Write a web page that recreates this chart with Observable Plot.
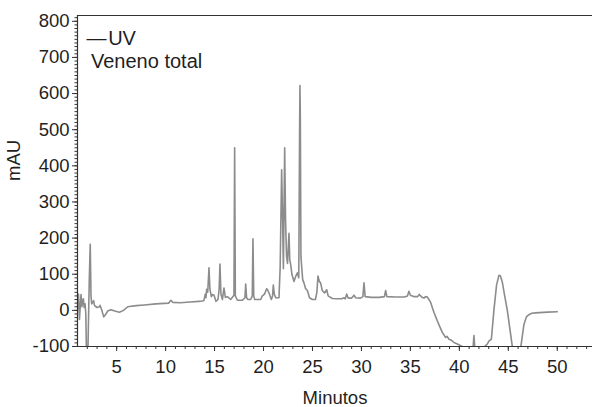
<!DOCTYPE html>
<html>
<head>
<meta charset="utf-8">
<script src="https://cdn.jsdelivr.net/npm/d3@7"></script>
<script src="https://cdn.jsdelivr.net/npm/@observablehq/plot@0.6"></script>
<style>
  html, body { margin: 0; padding: 0; background: #fff; }
  svg { display: block; }
</style>
</head>
<body>
<div id="chart"></div>
<script>
// Retention time (minutes)
const minutos = [
  1.02, 1.1, 1.2, 1.3, 1.36, 1.45, 1.52, 1.6, 1.68, 1.77, 1.85, 1.92, 2.05, 2.2, 2.3, 2.38, 2.45, 2.55, 2.65, 2.72, 2.79,
  3.0, 3.24, 3.3, 3.45, 3.68, 3.9, 4.08, 4.42, 4.8, 5.28, 5.7, 6.13, 7.0, 7.83, 9.0, 10.3, 10.55, 10.75, 11.5, 12.5,
  13.4, 13.79, 13.92, 14.05, 14.12, 14.19, 14.3, 14.43, 14.52, 14.67, 14.8, 14.94, 15.14, 15.35, 15.47, 15.55, 15.65,
  15.8, 15.96, 16.1, 16.31, 16.64, 16.98, 17.05, 17.12, 17.33, 17.84, 18.1, 18.18, 18.27, 18.41, 18.69, 18.85, 18.92,
  19.0, 19.1, 19.71, 19.88, 20.1, 20.32, 20.45, 20.56, 20.8, 20.92, 21.0, 21.1, 21.24, 21.58, 21.7, 21.85, 21.95,
  22.03, 22.1, 22.16, 22.25, 22.35, 22.45, 22.6, 22.68, 22.77, 22.9, 23.11, 23.3, 23.46, 23.6, 23.68, 23.72, 23.76,
  23.82, 23.9, 24.0, 24.13, 24.3, 24.48, 24.7, 24.99, 25.3, 25.45, 25.56, 25.7, 25.83, 26.0, 26.24, 26.45, 26.6,
  27.03, 27.5, 28.0, 28.21, 28.35, 28.49, 28.65, 29.0, 29.24, 29.4, 29.9, 30.15, 30.26, 30.38, 31.0, 31.8, 32.35,
  32.47, 32.6, 33.5, 34.4, 34.7, 34.85, 35.0, 35.4, 35.75, 35.9, 36.05, 36.2, 36.38, 36.55, 36.73, 37.07, 37.4,
  37.75, 38.0, 38.26, 38.6, 38.75, 38.94, 39.2, 39.45, 39.8, 40.13, 40.5, 41.0, 41.4, 41.49, 41.58, 42.0, 42.5,
  42.86, 43.02, 43.15, 43.27, 43.53, 43.8, 44.04, 44.2, 44.39, 44.6, 44.9, 45.41, 45.7, 46.1, 46.26, 46.59, 46.85,
  47.1, 47.4, 47.79, 49.0, 50.0
];
// Absorbance (mAU)
const mAU = [
  5, 45, -25, 20, 44, 10, 25, 32, 8, 18, -10, -130, -130, 80, 183, 40, 18, 22, 27, 15, 12,
  8, 10, 14, 3, -18, -10, -2, 2, -2, -5, 0, 10, 13, 15, 18, 20, 28, 22, 21, 23,
  25, 26, 28, 45, 35, 58, 50, 118, 60, 38, 44, 42, 25, 30, 60, 128, 45,
  30, 62, 36, 38, 30, 42, 450, 40, 28, 28, 35, 73, 35, 30, 30, 40, 198,
  40, 30, 30, 40, 45, 60, 55, 48, 30, 40, 70, 45, 35, 35, 120, 389, 250,
  115, 300, 450, 250, 150, 130, 213, 140, 127, 100, 80, 95, 104, 90, 480, 622, 530,
  150, 120, 85, 76, 60, 55, 35, 30, 30, 50, 95, 80, 76, 55, 48, 57, 40,
  33, 32, 32, 35, 32, 45, 34, 34, 42, 35, 34, 38, 76, 38, 36, 36, 38,
  55, 38, 37, 37, 40, 53, 42, 38, 38, 44, 40, 36, 34, 38, 37, 22, -5,
  -29, -45, -61, -75, -72, -80, -83, -89, -93, -98, -102, -103, -103, -70, -103, -103, -102,
  -93, -85, -82, -80, 0, 70, 97, 95, 78, 45, 0, -100, -130, -130, -105, -40, -18,
  -12, -8, -7, -5, -4
];

const xDomain = [1.0, 53.6];
const yDomain = [-100, 816];
const xMajorTicks = [5, 10, 15, 20, 25, 30, 35, 40, 45, 50];
const xMinorTicks = d3.range(2, 54, 1);
const yMajorTicks = [-100, 0, 100, 200, 300, 400, 500, 600, 700, 800];
const yMinorTicks = d3.range(-100, 811, 10);
const xLabel = "Minutos";
const yLabel = "mAU";
const legendLine1 = "\u2014\u200aUV";
const legendLine2 = "Veneno total";

const data = minutos.map((t, i) => ({t, v: mAU[i]}));

const font = "'Liberation Sans', Arial, Helvetica, sans-serif";
const ink = "#1f1f1f";
const plain = d => String(d);

const chart = Plot.plot({
  width: 592,
  height: 407,
  marginLeft: 77,
  marginRight: 0,
  marginTop: 15,
  marginBottom: 61,
  style: {fontFamily: font, fontSize: "18.5px", color: ink, background: "#fff"},
  x: {domain: xDomain},
  y: {domain: yDomain},
  marks: [
    Plot.line(data, {x: "t", y: "v", stroke: "#8c8c8c", strokeWidth: 1.6, clip: true, curve: "linear"}),
    Plot.axisX(xMinorTicks, {tickSize: 3, text: null, label: null, stroke: "#333", strokeOpacity: 1}),
    Plot.axisX(xMajorTicks, {tickSize: 5, tickPadding: 8, label: null, stroke: "#333", strokeOpacity: 1, fill: ink, tickFormat: plain}),
    Plot.axisY(yMinorTicks, {tickSize: 2.5, text: null, label: null, stroke: "#333", strokeOpacity: 1}),
    Plot.axisY(yMajorTicks, {tickSize: 5, tickPadding: 3, label: null, stroke: "#333", strokeOpacity: 1, fill: ink, tickFormat: plain}),
    Plot.ruleY([yDomain[0]], {stroke: "#333", strokeWidth: 1.2}),
    Plot.ruleY([yDomain[1]], {stroke: "#333", strokeWidth: 1.2}),
    Plot.ruleX([xDomain[0]], {stroke: "#333", strokeWidth: 1.2}),
    Plot.text([xLabel], {frameAnchor: "bottom", dy: 57, fill: ink, fontSize: 18.5}),
    Plot.text([yLabel], {frameAnchor: "left", dx: -63, rotate: -90, fill: ink, fontSize: 18.5}),
    Plot.text([legendLine1], {frameAnchor: "top-left", dx: 9, dy: 15.3, textAnchor: "start", fill: ink, fontSize: 20}),
    Plot.text([legendLine2], {frameAnchor: "top-left", dx: 13.5, dy: 37.9, textAnchor: "start", fill: ink, fontSize: 20})
  ]
});

document.getElementById("chart").appendChild(chart);
</script>
</body>
</html>
